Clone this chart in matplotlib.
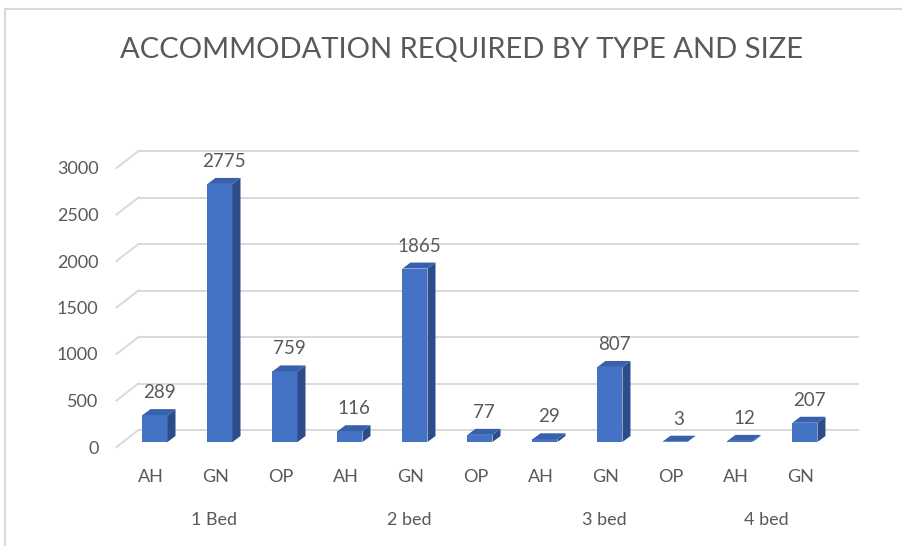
import matplotlib
matplotlib.use('Agg')
import matplotlib.pyplot as plt
import numpy as np
from matplotlib.patches import Polygon
from matplotlib.lines import Line2D
from matplotlib.transforms import Affine2D, IdentityTransform, blended_transform_factory

categories = ['AH', 'GN', 'OP', 'AH', 'GN', 'OP', 'AH', 'GN', 'OP', 'AH', 'GN']
values = [289, 2775, 759, 116, 1865, 77, 29, 807, 3, 12, 207]
groups = ['1 Bed', '2 bed', '3 bed', '4 bed']
group_sizes = [3, 3, 3, 2]
yticks = [0, 500, 1000, 1500, 2000, 2500, 3000]
title = 'ACCOMMODATION REQUIRED BY TYPE AND SIZE'

FONT = ['Lato', 'DejaVu Sans']
plt.rcParams['font.family'] = FONT
TXT = '#595959'
GRID = '#D9D9D9'
FRONT = '#4472C4'
SIDE = '#2C4C8A'
TOP = '#3860AB'

W, H = 902, 546
fig = plt.figure(figsize=(W / 100, H / 100), dpi=100)
fig.patch.set_facecolor('white')
ax = fig.add_axes([116.5 / W, (H - 447) / H, (836 - 116.5) / W, (447 - 168) / H])
ax.set_xlim(-0.5, 10.57)
ax.set_ylim(0, 3000)
for s in ax.spines.values():
    s.set_visible(False)
ax.set_xticks([])
ax.set_yticks(yticks)
ax.tick_params(axis='y', length=0, pad=13, labelsize=13, labelcolor=TXT)
ax.patch.set_alpha(0)

DX, DY = 22, 17      # back wall offset (pixels)
BX, BY = 6, 5        # bar offset from front plane
DD = np.array([8, 6])  # bar depth
bw = 0.385

# gridlines on back wall + left diagonals
wall = ax.transData + Affine2D().translate(DX, DY)
for v in yticks:
    ax.plot([-0.5, 10.57], [v, v], color=GRID, lw=1.4, transform=wall, zorder=1,
            clip_on=False)
    p = ax.transData.transform((-0.5, v))
    ax.add_line(Line2D([p[0], p[0] + DX], [p[1], p[1] + DY], color=GRID, lw=1.4,
                       transform=IdentityTransform(), zorder=1, clip_on=False))

x = np.arange(len(values))
boff = ax.transData + Affine2D().translate(BX, BY)
ax.bar(x, values, width=bw, color=FRONT, linewidth=0, transform=boff, zorder=3,
       clip_on=False)
for i, v in enumerate(values):
    fr_b = ax.transData.transform((i + bw / 2, 0)) + [BX, BY]
    fr_t = ax.transData.transform((i + bw / 2, v)) + [BX, BY]
    fl_t = ax.transData.transform((i - bw / 2, v)) + [BX, BY]
    side = Polygon([fr_b, fr_b + DD, fr_t + DD, fr_t], closed=True, facecolor=SIDE,
                   edgecolor='none', transform=IdentityTransform(), zorder=3, clip_on=False)
    top = Polygon([fl_t, fr_t, fr_t + DD, fl_t + DD], closed=True, facecolor=TOP,
                  edgecolor='none', transform=IdentityTransform(), zorder=3, clip_on=False)
    ax.add_patch(side)
    ax.add_patch(top)
    ax.annotate(str(v), (i, v), xytext=(BX + 4, BY + DD[1] + 8), textcoords='offset pixels',
                ha='center', va='bottom', fontsize=13.5, color=TXT, annotation_clip=False)

bt = blended_transform_factory(ax.transData, fig.transFigure)
for i, c in enumerate(categories):
    ax.text(i + 0.03, 1 - 477 / H, c, transform=bt, ha='center', va='center',
            fontsize=13, color=TXT)
start = 0
for g, n in zip(groups, group_sizes):
    center = start + (n - 1) / 2
    ax.text(center, 1 - 520 / H, g, transform=bt, ha='center', va='center',
            fontsize=13, color=TXT)
    start += n

fig.text(461.5 / W, 1 - 50 / H, title, ha='center', va='center', fontsize=21,
         color=TXT)

# outer frame lines
fig.add_artist(Line2D([5 / W, 1], [1 - 9 / H, 1 - 9 / H], transform=fig.transFigure,
                      color=GRID, lw=1.5))
fig.add_artist(Line2D([5 / W, 5 / W], [0, 1 - 9 / H], transform=fig.transFigure,
                      color=GRID, lw=1.5))

fig.savefig('out.png', dpi=100)
